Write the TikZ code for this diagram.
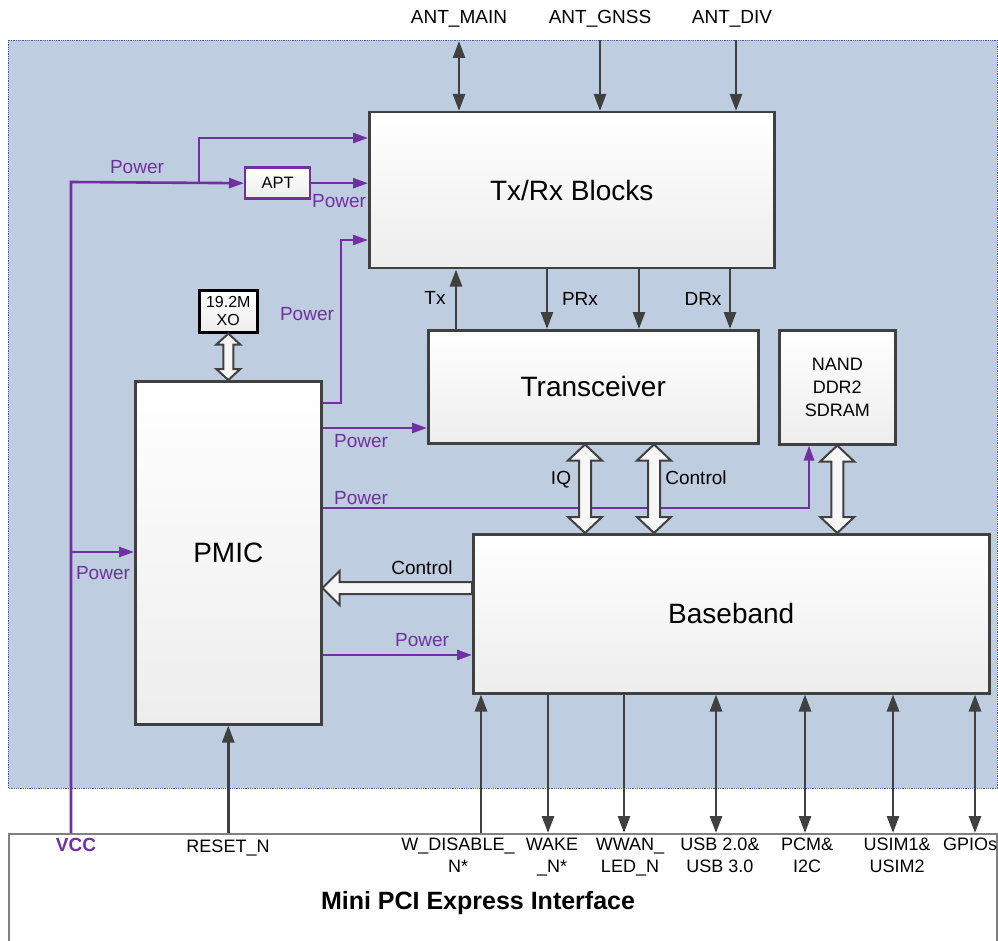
\documentclass[tikz,border=0pt]{standalone}
\usepackage{fontspec}
\setmainfont{Liberation Sans}
\usetikzlibrary{arrows.meta,calc}
\definecolor{pur}{RGB}{112,48,160}
\definecolor{bgb}{RGB}{191,205,224}
\definecolor{dk}{RGB}{64,64,64}
\definecolor{bdr}{RGB}{70,90,150}
\newcommand\vdblarr[5]{\path[hollow] let \p1=(#1), \p2=(#2) in
 (\x1,\y1) -- (\x1+#3,\y1-#5) -- (\x1+#4,\y1-#5) -- (\x1+#4,\y2+#5) -- (\x1+#3,\y2+#5) -- (\x1,\y2)
 -- (\x1-#3,\y2+#5) -- (\x1-#4,\y2+#5) -- (\x1-#4,\y1-#5) -- (\x1-#3,\y1-#5) -- cycle;}
\newcommand\hleftarr[5]{\path[hollow] let \p1=(#1), \p2=(#2) in
 (\x1,\y1) -- (\x1+#5,\y1+#3) -- (\x1+#5,\y1+#4) -- (\x2,\y1+#4) -- (\x2,\y1-#4) -- (\x1+#5,\y1-#4) -- (\x1+#5,\y1-#3) -- cycle;}
\begin{document}
\begin{tikzpicture}[x=1pt,y=-1pt,
 box/.style={draw=dk, line width=2.5pt, top color=white, bottom color=gray!14, inner sep=0pt, align=center},
 big/.style={font=\fontsize{28}{32}\selectfont},
 lbl/.style={font=\fontsize{19}{22}\selectfont, inner sep=0pt},
 plbl/.style={lbl, text=pur},
 blbl/.style={font=\fontsize{18}{22}\selectfont, inner sep=0pt, align=center, anchor=north},
 sig/.style={draw=dk, line width=2.6pt, -{Triangle[length=17pt,width=12pt]}},
 sigd/.style={draw=dk, line width=2.6pt, {Triangle[length=17pt,width=12pt]}-{Triangle[length=17pt,width=12pt]}},
 pw/.style={draw=pur, line width=2.6pt, -{Triangle[length=15pt,width=10pt]}},
 hollow/.style={draw=dk, line width=2pt, fill=gray!6, line join=miter}]
\useasboundingbox (0,0) rectangle (998,941);
% background
\fill[bgb] (8,40) rectangle (997,788);
\draw[bdr, densely dotted, line width=0.8pt] (8,40) rectangle (997,788);
\node[draw=gray, line width=1.5pt, minimum width=988pt, minimum height=150pt, anchor=north west, inner sep=0pt] (mini) at (8,833) {};
% boxes
\node[box, big, minimum width=405pt, minimum height=156pt, anchor=north west] (txrx) at (368,111) {Tx/Rx Blocks};
\node[box, big, minimum width=330pt, minimum height=113pt, anchor=north west] (trx) at (427,329) {Transceiver};
\node[box, minimum width=116pt, minimum height=114pt, anchor=north west, font=\fontsize{18}{22.7}\selectfont] (nand) at (778,329) {NAND\\DDR2\\SDRAM};
\node[box, big, minimum width=516pt, minimum height=159pt, anchor=north west] (bb) at (472,533) {Baseband};
\node[box, big, minimum width=186pt, minimum height=343pt, anchor=north west] (pmic) at (134,380) {PMIC};
\node[box, draw=black, line width=2.6pt, minimum width=58pt, minimum height=42pt, anchor=north west, font=\fontsize{16}{18}\selectfont] (xo) at (198,289) {19.2M\\XO};
\node[box, draw=pur, line width=2.4pt, minimum width=65pt, minimum height=31pt, anchor=north west, font=\fontsize{16.5}{18}\selectfont] (apt) at (244,166.5) {APT};
% antenna labels
\node[lbl] (antmain) at (459,19) {ANT\_MAIN};
\node[lbl] (antgnss) at (600,19) {ANT\_GNSS};
\node[lbl] (antdiv) at (732,19) {ANT\_DIV};
\coordinate (am) at (459,41);
\coordinate (ag) at (600,40);
\coordinate (ad) at (736,40);
\draw[sigd] (am) -- (txrx.north -| am);
\draw[sig] (ag) -- (txrx.north -| ag);
\draw[sig] (ad) -- (txrx.north -| ad);
% Tx/Rx to transceiver
\coordinate (xtx) at (456,0);
\coordinate (xpr) at (547,0);
\coordinate (xmd) at (639,0);
\coordinate (xdr) at (730,0);
\draw[sig] (trx.north -| xtx) -- (txrx.south -| xtx);
\draw[sig] (txrx.south -| xpr) -- (trx.north -| xpr);
\draw[sig] (txrx.south -| xmd) -- (trx.north -| xmd);
\draw[sig] (txrx.south -| xdr) -- (trx.north -| xdr);
\node[lbl] (ltx) at (435,298) {Tx};
\node[lbl] (lprx) at (580,299) {PRx};
\node[lbl] (ldrx) at (703,299) {DRx};
% power lines
\coordinate (vtop) at (71,182);
\coordinate (br) at (199,182);
\coordinate (brt) at (199,138);
\draw[pw] (mini.north -| vtop) -- (vtop) -- (apt.west);
\draw[pw] (br) -- (brt) -- (brt -| txrx.west);
\draw[pw] (apt.east) -- (apt.east -| txrx.west);
\coordinate (p1) at (341,403);
\coordinate (p1t) at (341,240);
\draw[pw] (p1 -| pmic.east) -- (p1) -- (p1t) -- (p1t -| txrx.west);
\coordinate (p2) at (0,428);
\draw[pw] (pmic.east |- p2) -- (trx.west |- p2);
\coordinate (p3) at (809,508);
\draw[pw] (pmic.east |- p3) -- (p3) -- (nand.south -| p3);
\coordinate (p4) at (0,655);
\draw[pw] (pmic.east |- p4) -- (bb.west |- p4);
\coordinate (p5) at (71,552);
\draw[pw] (p5) -- (pmic.west |- p5);
\node[plbl] (pw1) at (137,167) {Power};
\node[plbl] (pw2) at (339,201) {Power};
\node[plbl] (pw3) at (307,314) {Power};
\node[plbl] (pw4) at (361,441) {Power};
\node[plbl] (pw5) at (361,498) {Power};
\node[plbl] (pw6) at (103,573) {Power};
\node[plbl] (pw7) at (422,640) {Power};
% hollow arrows
\coordinate (xiq) at (585,0);
\coordinate (xct) at (654,0);
\coordinate (yct) at (0,588);
\vdblarr{xo.south}{pmic.north}{12pt}{5pt}{11pt}
\vdblarr{trx.south -| xiq}{bb.north -| xiq}{17pt}{6pt}{16pt}
\vdblarr{trx.south -| xct}{bb.north -| xct}{17pt}{6pt}{16pt}
\vdblarr{nand.south}{nand.south |- bb.north}{17pt}{6pt}{16pt}
\hleftarr{pmic.east |- yct}{bb.west |- yct}{17pt}{6pt}{17pt}
\node[lbl] (liq) at (561,480) {IQ};
\node[lbl] (lct) at (696,478) {Control};
\node[lbl] (lct2) at (422,568) {Control};
% bottom signals
\draw[sig] (mini.north -| pmic.south) -- (pmic.south);
\coordinate (xw) at (481,0);
\coordinate (xwk) at (548,0);
\coordinate (xww) at (624,0);
\coordinate (xus) at (716,0);
\coordinate (xpc) at (805,0);
\coordinate (xsi) at (893,0);
\coordinate (xgp) at (975,0);
\draw[sig] (mini.north -| xw) -- (bb.south -| xw);
\draw[sig] (bb.south -| xwk) -- (mini.north -| xwk);
\draw[sig] (bb.south -| xww) -- (mini.north -| xww);
\draw[sigd] (bb.south -| xus) -- (mini.north -| xus);
\draw[sigd] (bb.south -| xpc) -- (mini.north -| xpc);
\draw[sigd] (bb.south -| xsi) -- (mini.north -| xsi);
\draw[sigd] (bb.south -| xgp) -- (mini.north -| xgp);
\node[font=\bfseries\fontsize{19}{22}\selectfont, text=pur, inner sep=0pt] (vcc) at (76,845) {VCC};
\node[lbl, font=\fontsize{18}{22}\selectfont] (rst) at (228,848) {RESET\_N};
\node[blbl] (lw) at (458,838) {W\_DISABLE\_\\N*};
\node[blbl] (lwk) at (552,838) {WAKE\\\_N*};
\node[blbl] (lww) at (630,838) {WWAN\_\\LED\_N};
\node[blbl] (lus) at (720,838) {USB 2.0\&\\USB 3.0};
\node[blbl] (lpc) at (807,838) {PCM\&\\I2C};
\node[blbl] (lsi) at (897,838) {USIM1\&\\USIM2};
\node[blbl] (lgp) at (970,838) {GPIOs};
\node[font=\bfseries\fontsize{25}{28}\selectfont, inner sep=0pt] (title) at (478,903) {Mini PCI Express Interface};
\end{tikzpicture}
\end{document}
